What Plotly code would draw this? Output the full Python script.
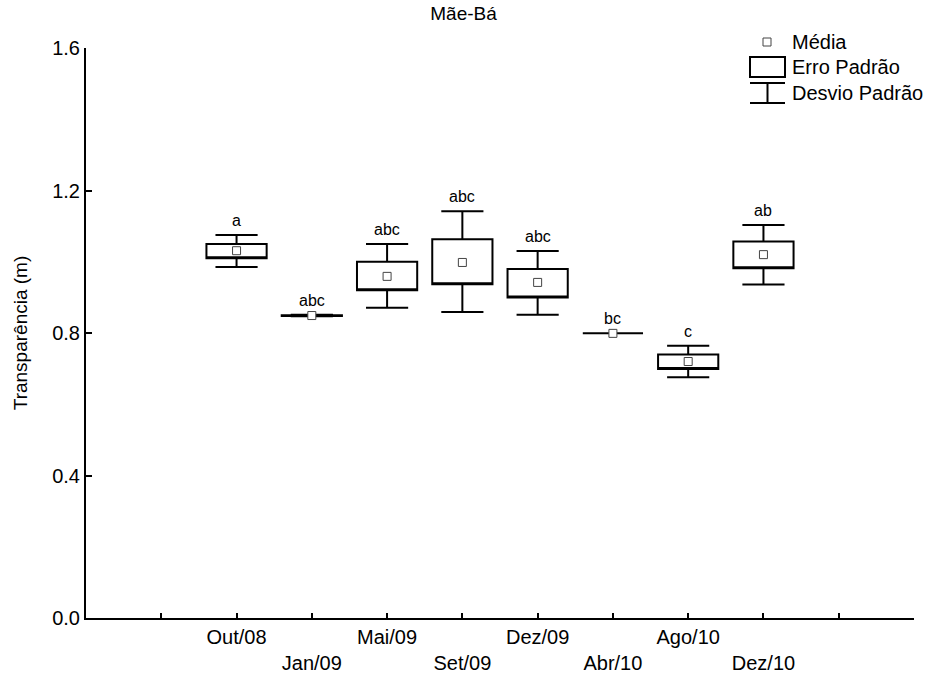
import plotly.graph_objects as go

# ---- data ----
categories = ["Out/08", "Jan/09", "Mai/09", "Set/09", "Dez/09", "Abr/10", "Ago/10", "Dez/10"]
media      = [1.031, 0.849, 0.959, 0.998, 0.942, 0.799, 0.720, 1.020]
ep_low     = [1.010, 0.848, 0.920, 0.937, 0.900, 0.799, 0.699, 0.982]
ep_high    = [1.050, 0.850, 1.000, 1.063, 0.980, 0.799, 0.740, 1.057]
dp_low     = [0.985, 0.847, 0.871, 0.859, 0.851, 0.799, 0.676, 0.936]
dp_high    = [1.075, 0.851, 1.050, 1.142, 1.030, 0.799, 0.764, 1.103]
letras     = ["a", "abc", "abc", "abc", "abc", "bc", "c", "ab"]
y_ticks    = [0.0, 0.4, 0.8, 1.2, 1.6]

FONT = "Liberation Sans, Arial, sans-serif"
W, H = 927, 675
ML, MR, MT, MB = 86, 13, 48, 57
PW, PH = W - ML - MR, H - MT - MB

def pxx(px):
    return (px - ML) / PW

def pxy(py):
    return (H - MB - py) / PH

xs = list(range(len(categories)))

fig = go.Figure()

fig.add_trace(go.Box(
    x=xs,
    q1=ep_low, q3=ep_high, median=ep_low,
    lowerfence=dp_low, upperfence=dp_high,
    width=0.8, whiskerwidth=0.7,
    line=dict(color="black", width=2),
    fillcolor="white",
    boxpoints=False,
    showlegend=False,
    hoverinfo="skip",
))

fig.add_trace(go.Scatter(
    x=xs, y=media, mode="markers",
    marker=dict(symbol="square", size=8, color="white",
                line=dict(color="#444444", width=1)),
    showlegend=False,
    cliponaxis=False,
))

annotations = []
for i, (lt, top) in enumerate(zip(letras, dp_high)):
    annotations.append(dict(
        x=i, y=top, xref="x", yref="y", text=lt, showarrow=False,
        yanchor="bottom", yshift=4, font=dict(family=FONT, size=16, color="black"),
    ))

# ---- legend drawn manually ----
shapes = []
shapes.append(dict(type="rect", xref="paper", yref="paper",
                   x0=pxx(763), x1=pxx(771), y0=pxy(46), y1=pxy(38),
                   line=dict(color="#444444", width=1), fillcolor="white"))
shapes.append(dict(type="rect", xref="paper", yref="paper",
                   x0=pxx(750), x1=pxx(785), y0=pxy(77), y1=pxy(57),
                   line=dict(color="black", width=2), fillcolor="white"))
for (a, b, c, d) in [(750, 83, 785, 83), (750, 103, 785, 103), (767.5, 83, 767.5, 103)]:
    shapes.append(dict(type="line", xref="paper", yref="paper",
                       x0=pxx(a), y0=pxy(b), x1=pxx(c), y1=pxy(d),
                       line=dict(color="black", width=2)))
for txt, py in [("Média", 42), ("Erro Padrão", 67), ("Desvio Padrão", 93)]:
    annotations.append(dict(
        x=pxx(790), y=pxy(py), xref="paper", yref="paper", text=txt,
        showarrow=False, xanchor="left", yanchor="middle",
        font=dict(family=FONT, size=20, color="black"),
    ))

tickvals = list(range(-2, 10))
ticktext = []
for v in tickvals:
    if 0 <= v < len(categories):
        ticktext.append(categories[v] if v % 2 == 0 else "<br>" + categories[v])
    else:
        ticktext.append("")

fig.update_layout(
    width=W, height=H,
    margin=dict(l=ML, r=MR, t=MT, b=MB, pad=0),
    paper_bgcolor="white", plot_bgcolor="white",
    font=dict(family=FONT, size=20, color="black"),
    title=dict(text="Mãe-Bá", x=0.5, xref="container", xanchor="center",
               y=1 - 13 / H, yref="container", yanchor="middle",
               font=dict(family=FONT, size=19, color="black")),
    xaxis=dict(range=[-2, 9], tickvals=tickvals, ticktext=ticktext,
               automargin=False,
               showgrid=False, zeroline=False, showline=True,
               linecolor="black", linewidth=2,
               ticks="inside", ticklen=5, tickwidth=2, tickcolor="black",
               tickangle=0,
               tickfont=dict(family=FONT, size=20, color="black")),
    yaxis=dict(range=[0, 1.6], tickvals=y_ticks, tickformat=".1f",
               automargin=False,
               showgrid=False, zeroline=False, showline=True,
               linecolor="black", linewidth=2,
               ticks="inside", ticklen=6, tickwidth=2, tickcolor="black",
               tickfont=dict(family=FONT, size=20, color="black"),
               title=dict(text="Transparência (m)", standoff=20,
                          font=dict(family=FONT, size=19, color="black"))),
    shapes=shapes,
    annotations=annotations,
)

fig.write_html("out.html")
